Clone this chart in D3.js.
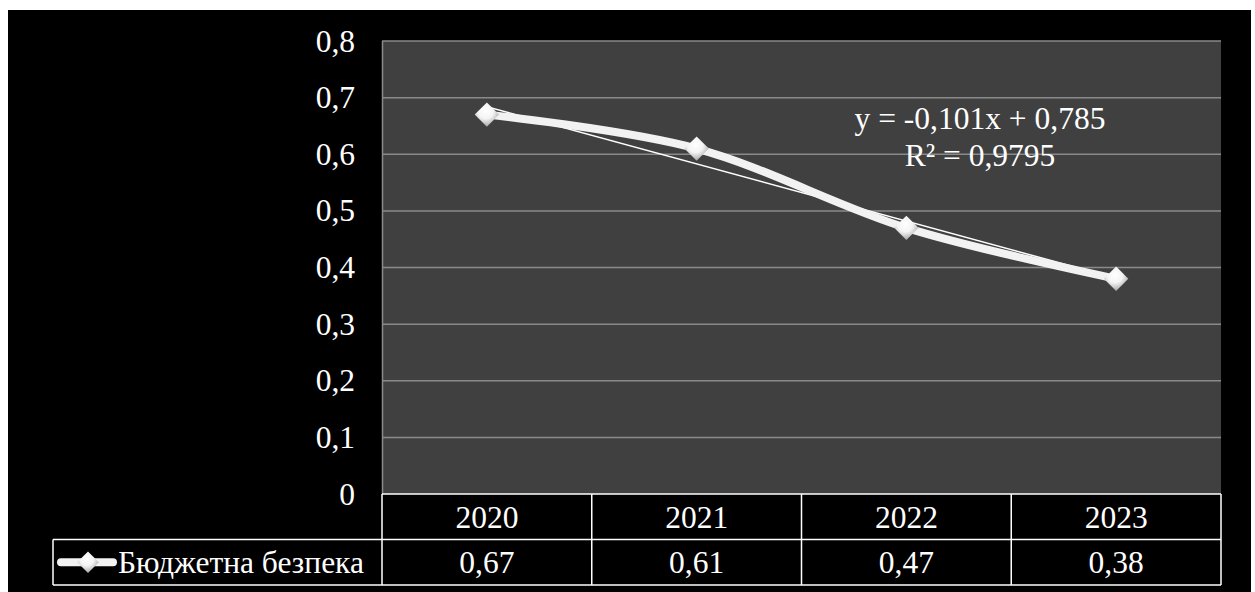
<!DOCTYPE html>
<html>
<head>
<meta charset="utf-8">
<script src="https://cdn.jsdelivr.net/npm/d3@7"></script>
<style>
  body { margin: 0; background: #fff; }
  svg text { font-family: 'Liberation Serif', 'Times New Roman', 'DejaVu Serif', serif; fill: #fff; }
</style>
</head>
<body>
<div id="chart"></div>
<script>
// data
var years = ["2020", "2021", "2022", "2023"];
var values = [0.67, 0.61, 0.47, 0.38];
var seriesName = "Бюджетна безпека";
var yTicks = [0, 0.1, 0.2, 0.3, 0.4, 0.5, 0.6, 0.7, 0.8];
// linear trend from the chart label
var trendSlope = -0.101;
var trendIntercept = 0.785;
var trendLabel = ["y = -0,101x + 0,785", "R² = 0,9795"];

// settings
var svgWidth = 1255;
var svgHeight = 592;
var fontSize = 31.5;
var fontFamily = "'Liberation Serif', 'Times New Roman', 'DejaVu Serif', serif";
var plot = { left: 382, right: 1221, top: 41, bottom: 494 };
var rowHeight = 45.5;
var legendLeft = 53;

var svg = d3.select("#chart").append("svg")
  .attr("width", svgWidth)
  .attr("height", svgHeight)
  .style("font-family", fontFamily);

// gradient for the diamond markers
var defs = svg.append("defs");
var grad = defs.append("radialGradient").attr("id", "mk")
  .attr("cx", "45%").attr("cy", "35%").attr("r", "70%");
grad.append("stop").attr("offset", "0%").attr("stop-color", "#ffffff");
grad.append("stop").attr("offset", "45%").attr("stop-color", "#f4f4f4");
grad.append("stop").attr("offset", "100%").attr("stop-color", "#9a9a9a");

// black chart area
svg.append("rect")
  .attr("x", 8).attr("y", 10)
  .attr("width", 1243).attr("height", svgHeight - 10)
  .attr("fill", "#000");

// plot area
svg.append("rect")
  .attr("x", plot.left).attr("y", plot.top)
  .attr("width", plot.right - plot.left).attr("height", plot.bottom - plot.top)
  .attr("fill", "#404040");

var x = d3.scaleBand().domain(years).range([plot.left, plot.right]);
var y = d3.scaleLinear().domain([0, 0.8]).range([plot.bottom, plot.top]);

// gridlines
svg.append("g").selectAll("line")
  .data(yTicks.filter(d => d > 0))
  .enter().append("line")
  .attr("x1", plot.left).attr("x2", plot.right)
  .attr("y1", d => y(d)).attr("y2", d => y(d))
  .attr("stroke", "#8a8a8a").attr("stroke-width", 1.5);

// left axis line
svg.append("line")
  .attr("x1", plot.left + 0.5).attr("x2", plot.left + 0.5)
  .attr("y1", plot.top).attr("y2", plot.bottom)
  .attr("stroke", "#8a8a8a").attr("stroke-width", 1.5);

// y axis labels
var yAxis = d3.axisLeft(y)
  .tickValues(yTicks)
  .tickSize(0)
  .tickPadding(27)
  .tickFormat(d => String(+d.toFixed(1)).replace(".", ","));
var yg = svg.append("g")
  .attr("transform", `translate(${plot.left},0)`)
  .call(yAxis)
  .attr("font-family", null)
  .attr("font-size", null);
yg.select(".domain").remove();
yg.selectAll("text")
  .style("font-family", fontFamily)
  .style("font-size", fontSize + "px")
  .attr("fill", "#fff");

// trendline (x = 1..n)
var trendPts = years.map((yr, i) => [x(yr) + x.bandwidth() / 2, y(trendSlope * (i + 1) + trendIntercept)]);
svg.append("line")
  .attr("x1", trendPts[0][0]).attr("y1", trendPts[0][1])
  .attr("x2", trendPts[trendPts.length - 1][0]).attr("y2", trendPts[trendPts.length - 1][1])
  .attr("stroke", "#fff").attr("stroke-width", 1.5);

// smoothed series line
var line = d3.line()
  .x((d, i) => x(years[i]) + x.bandwidth() / 2)
  .y(d => y(d))
  .curve(d3.curveCatmullRom.alpha(0));
svg.append("path")
  .datum(values)
  .attr("d", line)
  .attr("fill", "none")
  .attr("stroke", "#f2f2f2")
  .attr("stroke-width", 8)
  .attr("stroke-linecap", "round");

// markers
var diamond = d3.symbol().type(d3.symbolDiamond2).size(380);
svg.append("g").selectAll("path")
  .data(values)
  .enter().append("path")
  .attr("d", diamond)
  .attr("transform", (d, i) => `translate(${x(years[i]) + x.bandwidth() / 2},${y(d)})`)
  .attr("fill", "url(#mk)");

// trend label
svg.append("g").selectAll("text")
  .data(trendLabel)
  .enter().append("text")
  .attr("x", 980)
  .attr("y", (d, i) => 118 + i * 37)
  .attr("dy", "0.35em")
  .attr("text-anchor", "middle")
  .style("font-size", fontSize + "px")
  .text(d => d);

// data table
var table = svg.append("g");
var row1 = plot.bottom, row2 = plot.bottom + rowHeight, row3 = plot.bottom + 2 * rowHeight;
var tableLines = [
  [plot.left, row1, plot.right, row1],
  [legendLeft, row2, plot.right, row2],
  [legendLeft, row3, plot.right, row3],
  [legendLeft, row2, legendLeft, row3]
];
years.forEach(function (yr) {
  tableLines.push([x(yr), row1, x(yr), row3]);
});
tableLines.push([plot.right, row1, plot.right, row3]);
table.selectAll("line")
  .data(tableLines)
  .enter().append("line")
  .attr("x1", d => d[0]).attr("y1", d => d[1])
  .attr("x2", d => d[2]).attr("y2", d => d[3])
  .attr("stroke", "#fff").attr("stroke-width", 1.5);

table.selectAll("text.year")
  .data(years)
  .enter().append("text")
  .attr("class", "year")
  .attr("x", d => x(d) + x.bandwidth() / 2)
  .attr("y", (row1 + row2) / 2)
  .attr("dy", "0.35em")
  .attr("text-anchor", "middle")
  .style("font-size", fontSize + "px")
  .text(d => d);

table.selectAll("text.val")
  .data(values)
  .enter().append("text")
  .attr("class", "val")
  .attr("x", (d, i) => x(years[i]) + x.bandwidth() / 2)
  .attr("y", (row2 + row3) / 2)
  .attr("dy", "0.35em")
  .attr("text-anchor", "middle")
  .style("font-size", fontSize + "px")
  .text(d => String(d).replace(".", ","));

// legend key
var ly = (row2 + row3) / 2;
table.append("line")
  .attr("x1", 61).attr("x2", 113)
  .attr("y1", ly).attr("y2", ly)
  .attr("stroke", "#f2f2f2").attr("stroke-width", 8)
  .attr("stroke-linecap", "round");
table.append("path")
  .attr("d", d3.symbol().type(d3.symbolDiamond2).size(300))
  .attr("transform", `translate(88,${ly})`)
  .attr("fill", "url(#mk)");
table.append("text")
  .attr("x", 118)
  .attr("y", ly)
  .attr("dy", "0.35em")
  .style("font-size", fontSize + "px")
  .text(seriesName);
</script>
</body>
</html>
